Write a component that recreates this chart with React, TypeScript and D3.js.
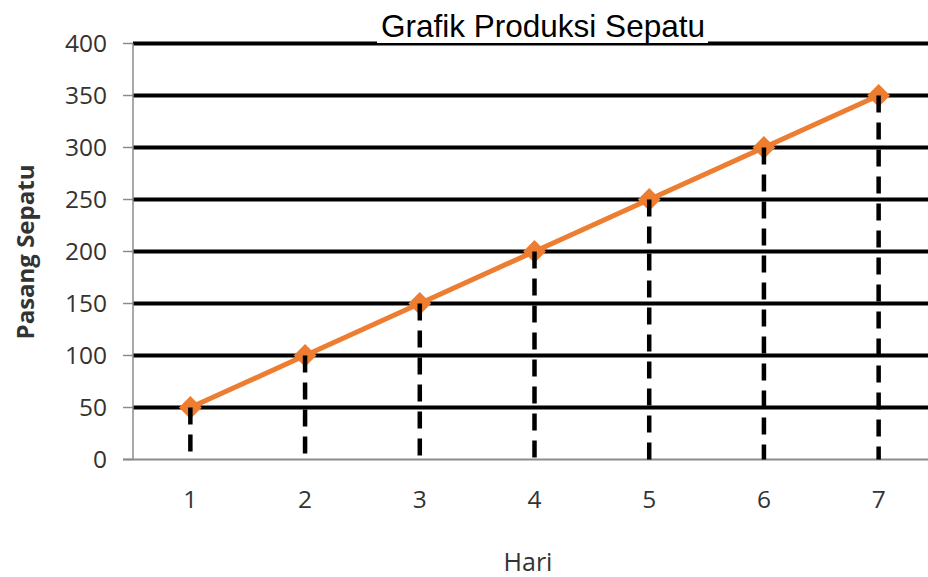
import { useEffect, useRef } from 'react'
import * as d3 from 'd3'

const days = ['1', '2', '3', '4', '5', '6', '7']
const pairs = [50, 100, 150, 200, 250, 300, 350]
const yTicks = [0, 50, 100, 150, 200, 250, 300, 350, 400]

const chartTitle = 'Grafik Produksi Sepatu'
const xTitle = 'Hari'
const yTitle = 'Pasang Sepatu'

function App() {
  const svgRef = useRef<SVGSVGElement>(null)

  useEffect(() => {
    const width = 928
    const height = 577
    const left = 133
    const top = 43.5
    const bottom = 459.5
    const labelFont = '"Open Sans", "Noto Sans", sans-serif'

    const svg = d3.select(svgRef.current)
    svg.selectAll('*').remove()
    svg.attr('width', width).attr('height', height)

    const x = d3.scaleBand().domain(days).range([left, 936]).padding(0)
    const cx = (d: string) => (x(d) as number) + x.bandwidth() / 2

    const y = d3.scaleLinear().domain([0, 400]).range([bottom, top])

    // horizontal gridlines (black, thick)
    svg.append('g')
      .selectAll('line')
      .data(yTicks.filter(t => t > 0))
      .join('line')
      .attr('x1', left)
      .attr('x2', width)
      .attr('y1', d => y(d))
      .attr('y2', d => y(d))
      .attr('stroke', '#000')
      .attr('stroke-width', 4)

    // axes (grey)
    const axisColor = '#8c8c8c'
    svg.append('line')
      .attr('x1', left - 10).attr('x2', width)
      .attr('y1', y(0)).attr('y2', y(0))
      .attr('stroke', axisColor).attr('stroke-width', 2)
    svg.append('line')
      .attr('x1', left).attr('x2', left)
      .attr('y1', y(400)).attr('y2', y(0))
      .attr('stroke', axisColor).attr('stroke-width', 1.5)

    // y ticks + labels
    const yAxis = svg.append('g')
    yAxis.selectAll('line')
      .data(yTicks)
      .join('line')
      .attr('x1', left - 10).attr('x2', left)
      .attr('y1', d => y(d)).attr('y2', d => y(d))
      .attr('stroke', axisColor).attr('stroke-width', 1.5)
    yAxis.selectAll('text')
      .data(yTicks)
      .join('text')
      .attr('x', 107)
      .attr('y', d => y(d))
      .attr('dy', '0.36em')
      .attr('text-anchor', 'end')
      .attr('font-family', labelFont)
      .attr('font-size', 24.5)
      .attr('fill', '#333')
      .text(d => d)

    // x labels
    svg.append('g')
      .selectAll('text')
      .data(days)
      .join('text')
      .attr('x', d => cx(d))
      .attr('y', 508)
      .attr('text-anchor', 'middle')
      .attr('font-family', labelFont)
      .attr('font-size', 24.5)
      .attr('fill', '#333')
      .text(d => d)

    // orange line
    const line = d3.line<number>()
      .x((_, i) => cx(days[i]))
      .y(d => y(d))
    svg.append('path')
      .datum(pairs)
      .attr('d', line)
      .attr('fill', 'none')
      .attr('stroke', '#ed7d31')
      .attr('stroke-width', 5)

    svg.append('g')
      .selectAll('path')
      .data(pairs)
      .join('path')
      .attr('d', d3.symbol().type(d3.symbolSquare).size(200))
      .attr('transform', (d, i) => `translate(${cx(days[i])},${y(d)}) rotate(45)`)
      .attr('fill', '#ed7d31')
      .attr('stroke', '#ed7d31')
      .attr('stroke-width', 2)

    // dashed drop lines (drawn on top of markers)
    svg.append('g')
      .selectAll('line')
      .data(pairs)
      .join('line')
      .attr('x1', (_, i) => cx(days[i]))
      .attr('x2', (_, i) => cx(days[i]))
      .attr('y1', d => y(d))
      .attr('y2', y(0))
      .attr('stroke', '#000')
      .attr('stroke-width', 4.5)
      .attr('stroke-dasharray', '17,10')

    // title with white box behind it
    svg.append('rect')
      .attr('x', 377).attr('y', 0)
      .attr('width', 331).attr('height', 43)
      .attr('fill', '#fff')
    svg.append('text')
      .attr('x', 543)
      .attr('y', 37)
      .attr('text-anchor', 'middle')
      .attr('font-family', '"Liberation Sans", Arial, sans-serif')
      .attr('font-size', 31.5)
      .attr('fill', '#000')
      .text(chartTitle)

    // axis titles
    svg.append('text')
      .attr('x', 528)
      .attr('y', 571)
      .attr('text-anchor', 'middle')
      .attr('font-family', labelFont)
      .attr('font-size', 25)
      .attr('fill', '#333')
      .text(xTitle)

    svg.append('text')
      .attr('transform', 'translate(34,252) rotate(-90)')
      .attr('text-anchor', 'middle')
      .attr('font-family', labelFont)
      .attr('font-size', 24)
      .attr('font-weight', 'bold')
      .attr('fill', '#333')
      .text(yTitle)
  }, [])

  return (
    <div style={{ position: 'absolute', left: 0, top: 0 }}>
      <svg ref={svgRef} style={{ display: 'block' }}></svg>
    </div>
  )
}

export default App
